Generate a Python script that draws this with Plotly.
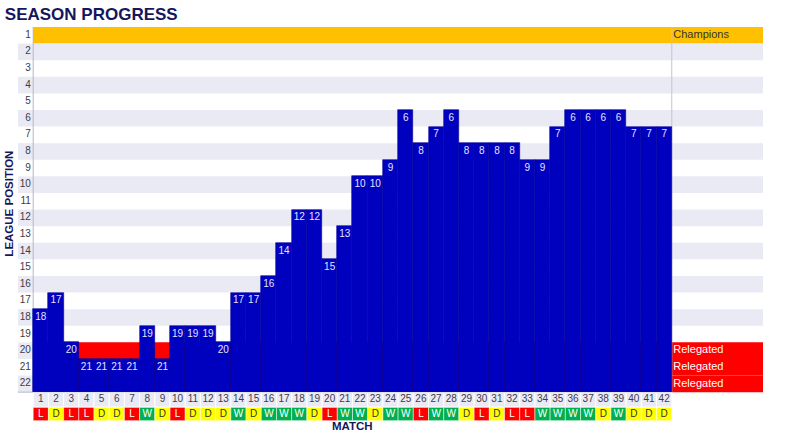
import plotly.graph_objects as go

# ---------------- data ----------------
matches = list(range(1, 43))
positions = [18, 17, 20, 21, 21, 21, 21, 19, 21, 19, 19, 19, 20, 17, 17, 16, 14, 12, 12, 15,
             13, 10, 10, 9, 6, 8, 7, 6, 8, 8, 8, 8, 9, 9, 7, 6, 6, 6, 6, 7, 7, 7]
results = ["L", "D", "L", "L", "D", "D", "L", "W", "D", "L", "D", "D", "D", "W", "D", "W",
           "W", "W", "D", "L", "W", "W", "D", "W", "W", "L", "W", "W", "D", "L", "D", "L",
           "L", "W", "W", "W", "W", "D", "W", "D", "D", "D"]
league_rows = list(range(1, 23))
zone_labels = {1: "Champions", 20: "Relegated", 21: "Relegated", 22: "Relegated"}

# ---------------- style ----------------
NAVY = "#16165C"
BAR = "#0000BF"
ORANGE = "#FFC000"
RED = "#FF0000"
GREEN = "#00B050"
YELLOW = "#FFFF00"
LAV = "#EAEAF4"
res_fill = {"W": GREEN, "D": YELLOW, "L": RED}
res_font = {"W": "white", "D": "#333333", "L": "white"}
FONT = "Liberation Sans"

n = len(matches)
x_left, x_right = -0.5, n + 6.5
bottom = len(league_rows) + 0.5

fig = go.Figure()
shapes = []

# row backgrounds
for r in league_rows:
    if r % 2 == 0:
        shapes.append(dict(type="rect", xref="x", yref="y", x0=x_left, x1=0.5,
                           y0=r - 0.5, y1=r + 0.5, fillcolor=LAV, line_width=0, layer="below"))
    if r == 1:
        fill = ORANGE
    elif r in (20, 21, 22):
        fill = RED
    elif r % 2 == 0:
        fill = LAV
    else:
        fill = None
    if fill:
        shapes.append(dict(type="rect", xref="x", yref="y", x0=0.5, x1=x_right,
                           y0=r - 0.5, y1=r + 0.5, fillcolor=fill, line_width=0, layer="below"))

# axis lines
shapes.append(dict(type="line", xref="x", yref="y", x0=0.5, x1=0.5, y0=0.5, y1=bottom,
                   line=dict(color="#B4B4CC", width=1), layer="below"))
shapes.append(dict(type="line", xref="x", yref="y", x0=n + 0.5, x1=n + 0.5, y0=0.5, y1=bottom,
                   line=dict(color="#C4C4D4", width=1), layer="below"))
shapes.append(dict(type="line", xref="x", yref="y", x0=x_left, x1=0.5, y0=bottom, y1=bottom,
                   line=dict(color="#B4B4CC", width=1), layer="below"))

# match number and result cells
for m, res in zip(matches, results):
    shapes.append(dict(type="rect", xref="x", yref="y", x0=m - 0.5, x1=m + 0.5,
                       y0=bottom + 0.02, y1=bottom + 0.9, fillcolor=LAV,
                       line=dict(color="white", width=1), layer="below"))
    shapes.append(dict(type="rect", xref="x", yref="y", x0=m - 0.5, x1=m + 0.5,
                       y0=bottom + 0.92, y1=bottom + 1.72, fillcolor=res_fill[res],
                       line=dict(color="white", width=0.5), layer="below"))

# bars
fig.add_trace(go.Bar(
    x=matches,
    base=[p - 0.5 for p in positions],
    y=[bottom - (p - 0.5) for p in positions],
    width=1,
    marker=dict(color=BAR, line=dict(color="#00009A", width=0.6)),
    hoverinfo="skip",
))

# bar labels
fig.add_trace(go.Scatter(
    x=matches, y=positions, mode="text", text=[str(p) for p in positions],
    textfont=dict(family=FONT, size=10, color="#E4E4FF"), hoverinfo="skip",
))

# y tick labels
fig.add_trace(go.Scatter(
    x=[0.35] * len(league_rows), y=league_rows, mode="text",
    text=[str(r) for r in league_rows], textposition="middle left",
    textfont=dict(family=FONT, size=10, color="#3A3A4A"), hoverinfo="skip",
))

# match numbers
fig.add_trace(go.Scatter(
    x=matches, y=[bottom + 0.46] * n, mode="text", text=[str(m) for m in matches],
    textfont=dict(family=FONT, size=10, color="#3A3A4A"), hoverinfo="skip",
))

# results
fig.add_trace(go.Scatter(
    x=matches, y=[bottom + 1.32] * n, mode="text", text=results,
    textfont=dict(family=FONT, size=10, color=[res_font[r] for r in results]),
    hoverinfo="skip",
))

# zone labels
zone_rows = list(zone_labels.keys())
fig.add_trace(go.Scatter(
    x=[n + 0.6] * len(zone_rows), y=zone_rows, mode="text",
    text=[zone_labels[r] for r in zone_rows], textposition="middle right",
    textfont=dict(family=FONT, size=11,
                  color=["#333333" if r == 1 else "white" for r in zone_rows]),
    hoverinfo="skip",
))

annotations = [
    dict(text="<b>LEAGUE POSITION</b>", xref="paper", yref="paper", x=-0.0125, y=0.552,
         textangle=-90, showarrow=False, font=dict(family=FONT, size=11.5, color=NAVY),
         xanchor="center", yanchor="middle"),
    dict(text="<b>MATCH</b>", xref="x", yref="paper", x=21.5, y=-0.011,
         showarrow=False, font=dict(family=FONT, size=11.5, color=NAVY),
         xanchor="center", yanchor="middle"),
]

fig.update_layout(
    width=800, height=434,
    margin=dict(l=18, r=37, t=27, b=12),
    paper_bgcolor="white", plot_bgcolor="white",
    showlegend=False,
    title=dict(text="<b>SEASON PROGRESS</b>", x=0.006, xanchor="left", xref="container",
               y=1 - 14 / 434, yanchor="middle", yref="container",
               font=dict(family=FONT, size=17, color=NAVY)),
    xaxis=dict(range=[x_left, x_right], visible=False, fixedrange=True),
    yaxis=dict(range=[bottom + 1.8, 0.5], visible=False, fixedrange=True),
    shapes=shapes,
    annotations=annotations,
    bargap=0,
)

fig.write_html("out.html", config={"displayModeBar": False},
               post_script="document.body.style.margin='0';")
